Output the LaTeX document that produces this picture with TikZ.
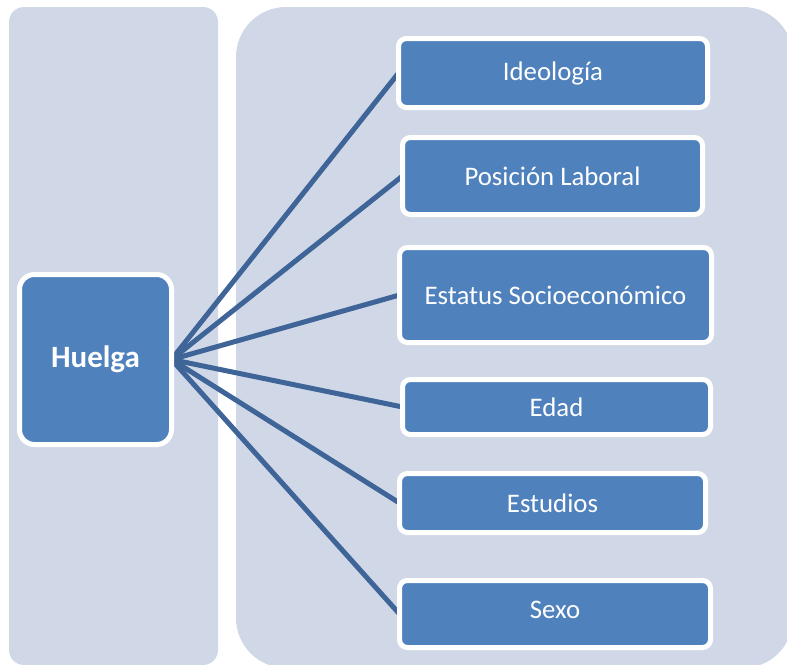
\documentclass[tikz,border=0pt]{standalone}
\usepackage{fontspec}
\setmainfont{Carlito}
\definecolor{panelc}{HTML}{D0D8E8}
\definecolor{boxc}{HTML}{4F81BD}
\definecolor{linec}{RGB}{62,100,152}
\pgfdeclarelayer{bg}
\pgfdeclarelayer{lines}
\pgfsetlayers{bg,lines,main}
\begin{document}
\begin{tikzpicture}[x=1pt,y=-1pt,
  panel/.style={fill=panelc,draw=none},
  itembox/.style={fill=boxc,draw=white,line width=5pt,rounded corners=8pt,
    inner sep=0pt,outer sep=0pt,text=white,font=\fontsize{26.8}{30}\selectfont},
  mainbox/.style={itembox,rounded corners=15pt,font=\fontsize{31}{35}\selectfont\bfseries},
  conn/.style={draw=linec,line width=5pt}]
\useasboundingbox (0,0) rectangle (787,664);
\begin{pgfonlayer}{bg}
  \begin{scope}
    \clip (0,0) rectangle (787,664);
    \fill[panel,rounded corners=15pt] (9,7) rectangle (218,665);
    \fill[panel,rounded corners=50pt] (236,7) rectangle (793,668);
  \end{scope}
\end{pgfonlayer}
\node[mainbox,minimum width=152pt,minimum height=170pt] (huelga) at (95.5,359.5) {Huelga};
\node[itembox,minimum width=309pt,minimum height=69pt] (ideo) at (553,73) {Ideología};
\node[itembox,minimum width=300pt,minimum height=77pt] (pos) at (552.5,176) {Posición Laboral};
\node[itembox,minimum width=312pt,minimum height=95pt] (est) at (555.5,295) {Estatus Socioeconómico};
\node[itembox,minimum width=308pt,minimum height=55pt] (edad) at (556.5,407) {Edad};
\node[itembox,minimum width=306pt,minimum height=59pt] (estu) at (552.5,503) {Estudios};
\node[itembox,minimum width=311pt,minimum height=67pt] (sexo) at (555,614) {\raisebox{9pt}{Sexo}};
\begin{pgfonlayer}{lines}
  \foreach \t in {ideo,pos,est,edad,estu,sexo}
    \draw[conn] (huelga.east) -- (\t.west);
\end{pgfonlayer}
\end{tikzpicture}
\end{document}
